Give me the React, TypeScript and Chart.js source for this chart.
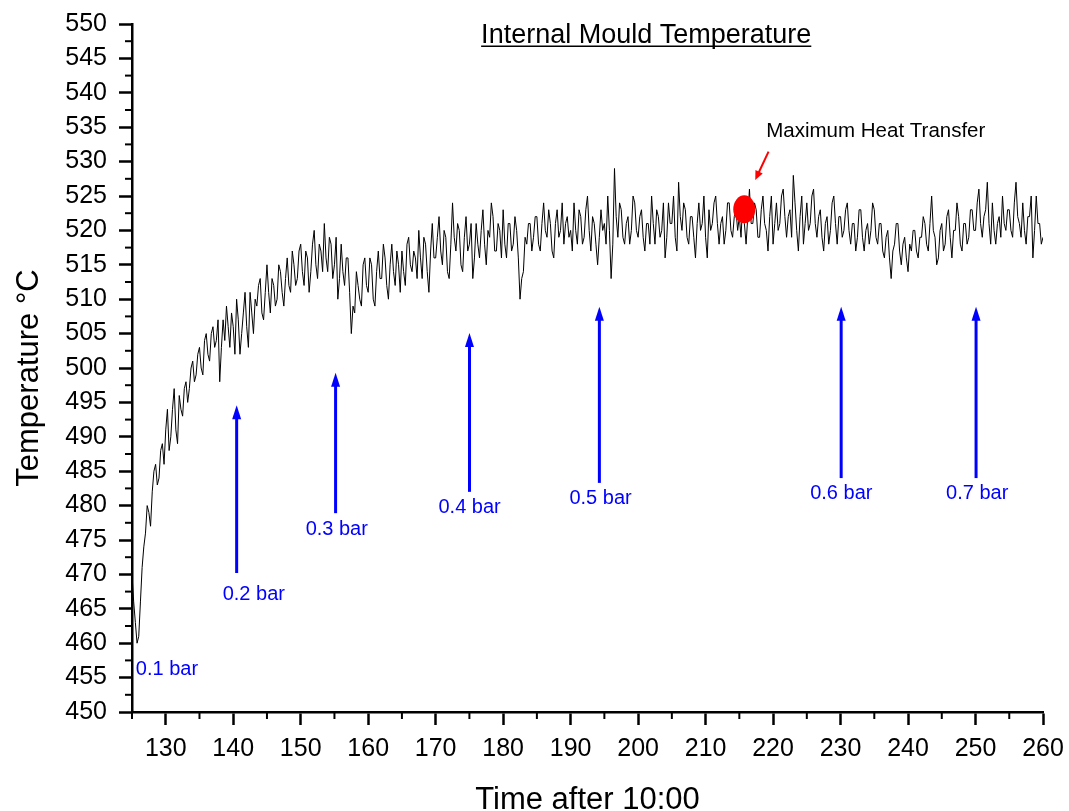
import React, { useEffect, useRef } from "react";
import { Chart, registerables } from "chart.js";

Chart.register(...registerables);

// ---- data ----
const timeStart = 125;
const timeStep = 0.25;

// 125.00 – 149.75
const tempsRise = [
  470, 466, 463, 460, 461, 466, 471, 474, 476, 480, 479, 477, 482, 485, 486, 483, 484, 488, 489, 486,
  491, 494, 488, 490, 494, 497, 491, 489, 496, 494, 493, 497, 498, 495, 497, 500, 501, 498, 499, 502,
  503, 500, 499, 504, 505, 502, 501, 505, 506, 503, 504, 507, 498, 503, 507, 504, 509, 506, 503, 508,
  506, 502, 510, 507, 502, 505, 508, 511, 506, 503, 511, 508, 505, 510, 509, 512, 513, 508, 507, 511,
  515, 511, 508, 513, 512, 509, 510, 515, 514, 511, 509, 513, 516, 512, 511, 517, 515, 512, 513, 517,
];
// 150.00 – 199.75
const tempsMid = [
  518, 514, 512, 517, 516, 511, 514, 518, 520, 515, 513, 518, 517, 514, 521, 516, 514, 519, 518, 513,
  515, 519, 510, 513, 518, 514, 512, 516, 516, 511, 505, 509, 508, 514, 512, 510, 509, 515, 516, 512,
  511, 516, 515, 510, 509, 514, 517, 513, 513, 518, 516, 512, 510, 515, 518, 514, 512, 517, 515, 511,
  517, 514, 512, 518, 519, 515, 514, 517, 516, 513, 520, 516, 513, 519, 518, 514, 511, 517, 521, 516,
  516, 519, 522, 517, 515, 520, 519, 514, 513, 518, 524, 519, 517, 521, 520, 515, 514, 519, 522, 517,
  518, 521, 513, 516, 521, 518, 516, 520, 523, 518, 515, 520, 519, 524, 522, 517, 517, 521, 520, 516,
  523, 518, 516, 521, 521, 517, 518, 522, 520, 516, 510, 513, 514, 519, 518, 521, 521, 517, 519, 522,
  522, 518, 517, 521, 524, 520, 519, 523, 521, 517, 516, 521, 523, 519, 520, 524, 518, 521, 522, 519,
  520, 517, 524, 520, 518, 523, 522, 518, 519, 523, 525, 520, 517, 522, 521, 518, 515, 519, 523, 520,
  521, 518, 525, 520, 513, 518, 529, 522, 519, 524, 523, 519, 518, 521, 522, 518, 520, 525, 524, 520,
];
// 200.00 – 260.00
const tempsPlateau = [
  519, 522, 523, 519, 517, 521, 521, 518, 525, 521, 518, 523, 522, 519, 520, 524, 516, 519, 524, 521,
  521, 525, 519, 517, 527, 522, 520, 524, 523, 519, 518, 522, 522, 519, 516, 521, 524, 520, 521, 525,
  519, 516, 523, 520, 521, 524, 525, 521, 518, 521, 522, 518, 520, 524, 524, 520, 519, 522, 523, 520,
  522, 519, 524, 521, 518, 522, 526, 521, 521, 524, 523, 519, 519, 523, 525, 521, 520, 517, 522, 525,
  518, 521, 524, 520, 521, 525, 526, 522, 519, 522, 523, 519, 528, 524, 520, 517, 522, 525, 518, 521,
  524, 520, 521, 525, 526, 521, 519, 522, 523, 519, 517, 521, 522, 518, 520, 524, 525, 521, 518, 522,
  522, 519, 520, 523, 524, 520, 518, 521, 521, 517, 519, 523, 523, 519, 517, 520, 521, 518, 520, 524,
  523, 519, 518, 521, 521, 517, 516, 519, 520, 516, 513, 517, 518, 521, 521, 517, 515, 518, 519, 516,
  514, 518, 517, 520, 520, 517, 516, 519, 519, 522, 521, 518, 517, 521, 525, 520, 519, 515, 516, 520,
  521, 517, 518, 522, 523, 519, 516, 520, 520, 524, 522, 518, 517, 521, 521, 518, 519, 523, 523, 520,
  520, 524, 526, 521, 519, 522, 523, 527, 521, 518, 524, 520, 518, 521, 522, 519, 525, 521, 520, 523,
  523, 520, 519, 524, 527, 522, 521, 519, 524, 520, 518, 522, 522, 525, 516, 520, 525, 521, 521, 518,
  519,
];

const xTicks = [130, 140, 150, 160, 170, 180, 190, 200, 210, 220, 230, 240, 250, 260];
const xMinorTicks = [125, 135, 145, 155, 165, 175, 185, 195, 205, 215, 225, 235, 245, 255];
const yTicks = [450, 455, 460, 465, 470, 475, 480, 485, 490, 495, 500, 505, 510, 515, 520, 525, 530, 535, 540, 545, 550];
const yMinorTicks = [452.5, 457.5, 462.5, 467.5, 472.5, 477.5, 482.5, 487.5, 492.5, 497.5, 502.5, 507.5, 512.5, 517.5, 522.5, 527.5, 532.5, 537.5, 542.5, 547.5];

// annotations
const pressureLabels = ["0.1 bar", "0.2 bar", "0.3 bar", "0.4 bar", "0.5 bar", "0.6 bar", "0.7 bar"];
const pressureLabelX = [125.56, 138.44, 150.73, 170.42, 189.82, 225.5, 245.64];
const pressureLabelY = [455.4, 466.3, 475.7, 478.9, 480.2, 481.0, 481.0];
const arrowX = [140.51, 155.17, 175.01, 194.26, 230.09, 250.08];
const arrowFrom = [470.2, 478.9, 482.0, 483.3, 484.0, 484.0];
const arrowTo = [494.6, 499.3, 505.1, 508.9, 508.9, 508.9];
const maxPoint = { x: 215.73, y: 523.07 };
const maxArrow = { x1: 219.33, y1: 531.44, x2: 217.36, y2: 527.33 };
const maxLabel = { text: "Maximum Heat Transfer", x: 218.99, y: 533.58 };
const chartTitle = { text: "Internal Mould Temperature", x: 201.2, y: 547.2 };
const yTitle = "Temperature °C";

const FONT = "'Liberation Sans', Arial, Helvetica, sans-serif";

const temps = [...tempsRise, ...tempsMid, ...tempsPlateau];
const points = temps.map((v, i) => ({ x: timeStart + i * timeStep, y: v }));

const overlayPlugin = {
  id: "overlay",
  afterDraw(chart: any) {
    const { ctx } = chart;
    const x = chart.scales.x;
    const y = chart.scales.y;
    ctx.save();
    // minor ticks
    ctx.strokeStyle = "#000";
    ctx.lineWidth = 2;
    xMinorTicks.forEach((v) => {
      const px = x.getPixelForValue(v);
      ctx.beginPath();
      ctx.moveTo(px, y.bottom);
      ctx.lineTo(px, y.bottom + 7);
      ctx.stroke();
    });
    yMinorTicks.forEach((v) => {
      const py = y.getPixelForValue(v);
      ctx.beginPath();
      ctx.moveTo(x.left, py);
      ctx.lineTo(x.left - 7, py);
      ctx.stroke();
    });

    // y axis title
    ctx.save();
    ctx.fillStyle = "#000";
    ctx.font = `31px ${FONT}`;
    ctx.textAlign = "center";
    ctx.textBaseline = "middle";
    ctx.translate(29, (y.top + y.bottom) / 2 + 10);
    ctx.rotate(-Math.PI / 2);
    ctx.fillText(yTitle, 0, 0);
    ctx.restore();

    // title, underlined
    ctx.fillStyle = "#000";
    ctx.font = `27px ${FONT}`;
    ctx.textAlign = "center";
    ctx.textBaseline = "alphabetic";
    const tx = x.getPixelForValue(chartTitle.x);
    const ty = y.getPixelForValue(chartTitle.y);
    ctx.fillText(chartTitle.text, tx, ty);
    const tw = ctx.measureText(chartTitle.text).width;
    ctx.strokeStyle = "#000";
    ctx.lineWidth = 1.5;
    ctx.beginPath();
    ctx.moveTo(tx - tw / 2, ty + 3);
    ctx.lineTo(tx + tw / 2, ty + 3);
    ctx.stroke();

    // blue arrows
    ctx.fillStyle = "#0000FF";
    ctx.strokeStyle = "#0000FF";
    arrowX.forEach((ax, i) => {
      const px = x.getPixelForValue(ax);
      const pyFrom = y.getPixelForValue(arrowFrom[i]);
      const pyTo = y.getPixelForValue(arrowTo[i]);
      ctx.lineWidth = 3;
      ctx.beginPath();
      ctx.moveTo(px, pyFrom);
      ctx.lineTo(px, pyTo + 10);
      ctx.stroke();
      ctx.beginPath();
      ctx.moveTo(px, pyTo);
      ctx.lineTo(px - 4.5, pyTo + 14);
      ctx.lineTo(px + 4.5, pyTo + 14);
      ctx.closePath();
      ctx.fill();
    });
    // blue labels
    ctx.font = `20px ${FONT}`;
    ctx.textAlign = "left";
    pressureLabels.forEach((t, i) => {
      ctx.fillText(t, x.getPixelForValue(pressureLabelX[i]), y.getPixelForValue(pressureLabelY[i]));
    });

    // red maximum marker
    ctx.fillStyle = "#FF0000";
    ctx.beginPath();
    ctx.ellipse(x.getPixelForValue(maxPoint.x), y.getPixelForValue(maxPoint.y), 11, 14, 0, 0, Math.PI * 2);
    ctx.fill();
    const ax1 = x.getPixelForValue(maxArrow.x1);
    const ay1 = y.getPixelForValue(maxArrow.y1);
    const ax2 = x.getPixelForValue(maxArrow.x2);
    const ay2 = y.getPixelForValue(maxArrow.y2);
    const ang = Math.atan2(ay2 - ay1, ax2 - ax1);
    ctx.strokeStyle = "#FF0000";
    ctx.lineWidth = 2;
    ctx.beginPath();
    ctx.moveTo(ax1, ay1);
    ctx.lineTo(ax2 - 6 * Math.cos(ang), ay2 - 6 * Math.sin(ang));
    ctx.stroke();
    ctx.beginPath();
    ctx.moveTo(ax2, ay2);
    ctx.lineTo(ax2 - 9 * Math.cos(ang) + 4 * Math.sin(ang), ay2 - 9 * Math.sin(ang) - 4 * Math.cos(ang));
    ctx.lineTo(ax2 - 9 * Math.cos(ang) - 4 * Math.sin(ang), ay2 - 9 * Math.sin(ang) + 4 * Math.cos(ang));
    ctx.closePath();
    ctx.fill();

    ctx.fillStyle = "#000";
    ctx.font = `20.5px ${FONT}`;
    ctx.textAlign = "left";
    ctx.fillText(maxLabel.text, x.getPixelForValue(maxLabel.x), y.getPixelForValue(maxLabel.y));
    ctx.restore();
  },
};

export default function App() {
  const ref = useRef<HTMLCanvasElement | null>(null);
  useEffect(() => {
    if (!ref.current) return;
    const chart = new Chart(ref.current, {
      type: "line",
      data: {
        datasets: [
          {
            data: points,
            borderColor: "#000",
            borderWidth: 1,
            pointRadius: 0,
            tension: 0,
            fill: false,
          },
        ],
      },
      options: {
        responsive: false,
        animation: false,
        layout: { padding: { left: 0, right: 26, top: 24, bottom: 0 } },
        plugins: { legend: { display: false }, tooltip: { enabled: false }, title: { display: false } },
        scales: {
          x: {
            type: "linear",
            min: 125,
            max: 260,
            afterBuildTicks: (s: any) => {
              s.ticks = xTicks.map((v) => ({ value: v }));
            },
            afterFit: (s: any) => {
              s.height = 99;
              s.paddingLeft = 0;
              s.paddingRight = 0;
            },
            ticks: { color: "#000", font: { family: FONT, size: 25 }, padding: 9, maxRotation: 0, autoSkip: false },
            grid: { display: true, drawOnChartArea: false, drawTicks: true, tickLength: 13, tickWidth: 2.5, tickColor: "#000" },
            border: { display: true, color: "#000", width: 2.5 },
            title: {
              display: true,
              text: "Time after 10:00",
              color: "#000",
              font: { family: FONT, size: 31 },
              padding: { top: 0, bottom: -8 },
            },
          },
          y: {
            type: "linear",
            min: 450,
            max: 550,
            afterBuildTicks: (s: any) => {
              s.ticks = yTicks.map((v) => ({ value: v }));
            },
            afterFit: (s: any) => {
              s.width = 132;
              s.paddingTop = 0;
              s.paddingBottom = 0;
            },
            ticks: { color: "#000", font: { family: FONT, size: 25 }, padding: 12, autoSkip: false },
            grid: { display: true, drawOnChartArea: false, drawTicks: true, tickLength: 13, tickWidth: 2.5, tickColor: "#000" },
            border: { display: true, color: "#000", width: 2.5 },
            title: { display: false },
          },
        },
      },
      plugins: [overlayPlugin],
    });
    return () => chart.destroy();
  }, []);
  return (
    <div style={{ position: "absolute", left: 0, top: 0, width: 1069, height: 811, background: "#fff" }}>
      <canvas ref={ref} width={1069} height={811} style={{ display: "block" }} />
    </div>
  );
}
